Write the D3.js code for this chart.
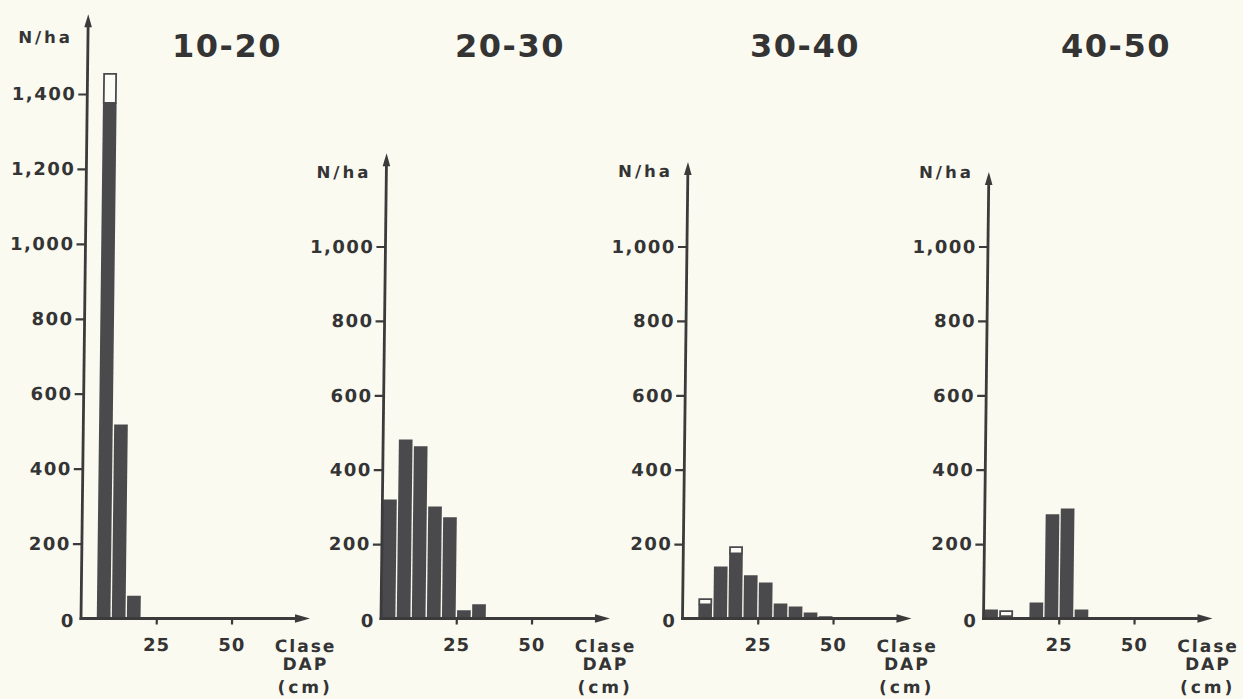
<!DOCTYPE html>
<html>
<head>
<meta charset="utf-8">
<script src="https://cdn.jsdelivr.net/npm/d3@7"></script>
<style>
html, body { margin: 0; padding: 0; background: #fafaf1; }
svg { display: block; }
text { font-family: "DejaVu Sans", Verdana, sans-serif; font-weight: bold; fill: #343434; }
</style>
</head>
<body>
<svg id="chart" width="1243" height="699"></svg>
<script>
// clases diamétricas: límite inferior de cada clase (cm), ancho 5 cm
const classes = [0, 5, 10, 15, 20, 25, 30, 35, 40, 45];
const classWidth = 5;
const panelTitles = ["10-20", "20-30", "30-40", "40-50"];

// N/ha por clase: parte oscura y parte blanca (apilada encima)
const dark1020  = [0, 1376, 518, 61, 0, 0, 0, 0, 0, 0];
const white1020 = [0, 80, 0, 0, 0, 0, 0, 0, 0, 0];
const dark2030  = [320, 481, 463, 301, 272, 22, 38, 0, 0, 0];
const white2030 = [0, 0, 0, 0, 0, 0, 0, 0, 0, 0];
const dark3040  = [0, 38, 140, 175, 116, 97, 40, 32, 16, 6];
const white3040 = [0, 16, 0, 19, 0, 0, 0, 0, 0, 0];
const dark4050  = [24, 6, 0, 43, 280, 296, 24, 0, 0, 0];
const white4050 = [0, 16, 0, 0, 0, 0, 0, 0, 0, 0];

const yTicksFirst = [0, 200, 400, 600, 800, 1000, 1200, 1400];
const yTicksOther = [0, 200, 400, 600, 800, 1000];
const xTicks = [25, 50];
const yLabel = "N/ha";
const xLabel = ["Clase", "DAP", "(cm)"];

// disposición de cada panel (posición en la página)
const baseY = 618.5;
const layout = [
  { dark: dark1020, white: white1020, ticks: yTicksFirst, x0: 81,    refVal: 1400, refPx: 94,    yMax: 1613, titleX: 227,  nhY: 43 },
  { dark: dark2030, white: white2030, ticks: yTicksOther, x0: 381,   refVal: 1000, refPx: 246.5, yMax: 1251, titleX: 510,  nhY: 178 },
  { dark: dark3040, white: white3040, ticks: yTicksOther, x0: 682.5, refVal: 1000, refPx: 246.5, yMax: 1227, titleX: 805,  nhY: 177 },
  { dark: dark4050, white: white4050, ticks: yTicksOther, x0: 983.5, refVal: 1000, refPx: 246.5, yMax: 1200, titleX: 1116, nhY: 178 }
];

const ink = "#3b3b3b";
const barFill = "#4a4a4c";
const svg = d3.select("#chart");

// el original escaneado está algo inclinado
const skew = -Math.atan(0.012) * 180 / Math.PI;
const plot = svg.append("g")
  .attr("transform", `translate(0,${baseY}) skewX(${skew}) translate(0,${-baseY})`);

layout.forEach((p, k) => {
  const x = d3.scaleLinear().domain([0, 25]).range([p.x0, p.x0 + 75.3]);
  const y = d3.scaleLinear().domain([0, p.refVal]).range([baseY, p.refPx]);
  const g = plot.append("g");

  // barras
  const bars = classes.map((c, i) => ({ c, d: p.dark[i], w: p.white[i] }));
  g.selectAll("rect.dark")
    .data(bars.filter(b => b.d > 0))
    .join("rect")
    .attr("class", "dark")
    .attr("x", b => x(b.c) + 0.7)
    .attr("width", b => x(b.c + classWidth) - x(b.c) - 1.4)
    .attr("y", b => y(b.d))
    .attr("height", b => y(0) - y(b.d))
    .attr("fill", barFill);

  g.selectAll("rect.white")
    .data(bars.filter(b => b.w > 0))
    .join("rect")
    .attr("class", "white")
    .attr("x", b => x(b.c) + 1.5)
    .attr("width", b => x(b.c + classWidth) - x(b.c) - 3)
    .attr("y", b => y(b.d + b.w) + 0.8)
    .attr("height", b => y(b.d) - y(b.d + b.w) - 0.8)
    .attr("fill", "#fcfcf7")
    .attr("stroke", barFill)
    .attr("stroke-width", 1.8);

  // eje Y
  const yAxis = d3.axisLeft(y)
    .tickValues(p.ticks)
    .tickSize(9)
    .tickPadding(2)
    .tickFormat(d => d >= 1000 ? d3.format(",")(d) : String(d));
  const ya = g.append("g").attr("transform", `translate(${p.x0},0)`).call(yAxis);
  ya.select(".domain").remove();
  ya.selectAll(".tick line").attr("stroke", ink).attr("stroke-width", 2.2);
  ya.selectAll(".tick text")
    .attr("font-size", 18)
    .attr("letter-spacing", 1.5)
    .attr("fill", "#343434")
    .attr("font-family", "DejaVu Sans")
    .attr("font-weight", "bold");
  ya.selectAll(".tick").filter(d => d === 0).select("line").remove();
  ya.selectAll(".tick").filter(d => d === 0).select("text").attr("x", -6).attr("dy", "0.42em");

  const tipY = y(p.yMax);
  g.append("line")
    .attr("x1", p.x0).attr("x2", p.x0)
    .attr("y1", baseY + 1.5).attr("y2", tipY + 8)
    .attr("stroke", ink).attr("stroke-width", 2.8);
  g.append("path")
    .attr("d", `M${p.x0},${tipY} L${p.x0 + 3.8},${tipY + 13} L${p.x0 - 3.8},${tipY + 13} Z`)
    .attr("fill", ink);

  // eje X
  const xEnd = p.x0 + 229;
  const xAxis = d3.axisBottom(x).tickValues(xTicks).tickSize(6).tickPadding(14);
  const xa = g.append("g").attr("transform", `translate(0,${baseY})`).call(xAxis);
  xa.select(".domain").remove();
  xa.selectAll(".tick line").attr("stroke", ink).attr("stroke-width", 2.2);
  xa.selectAll(".tick text")
    .attr("font-size", 18)
    .attr("letter-spacing", 1)
    .attr("fill", "#343434")
    .attr("font-family", "DejaVu Sans")
    .attr("font-weight", "bold");

  g.append("line")
    .attr("x1", p.x0 - 1.4).attr("x2", xEnd - 8)
    .attr("y1", baseY).attr("y2", baseY)
    .attr("stroke", ink).attr("stroke-width", 2.8);
  g.append("path")
    .attr("d", `M${xEnd},${baseY} L${xEnd - 15},${baseY - 4.2} L${xEnd - 15},${baseY + 4.2} Z`)
    .attr("fill", ink);

  // rótulos de ejes
  g.append("text")
    .attr("x", p.x0 - 15).attr("y", p.nhY)
    .attr("text-anchor", "end")
    .attr("font-size", 16.5)
    .attr("letter-spacing", 3)
    .text(yLabel);

  g.selectAll("text.xl")
    .data(xLabel)
    .join("text")
    .attr("class", "xl")
    .attr("x", p.x0 + 225)
    .attr("y", (d, i) => [652, 670, 693][i])
    .attr("text-anchor", "middle")
    .attr("font-size", 17)
    .attr("letter-spacing", (d, i) => i === 2 ? 3 : 2)
    .text(d => d);

  // título del panel
  svg.append("text")
    .attr("x", p.titleX).attr("y", 57)
    .attr("text-anchor", "middle")
    .attr("font-size", 32)
    .attr("letter-spacing", 1.5)
    .text(panelTitles[k]);
});
</script>
</body>
</html>
